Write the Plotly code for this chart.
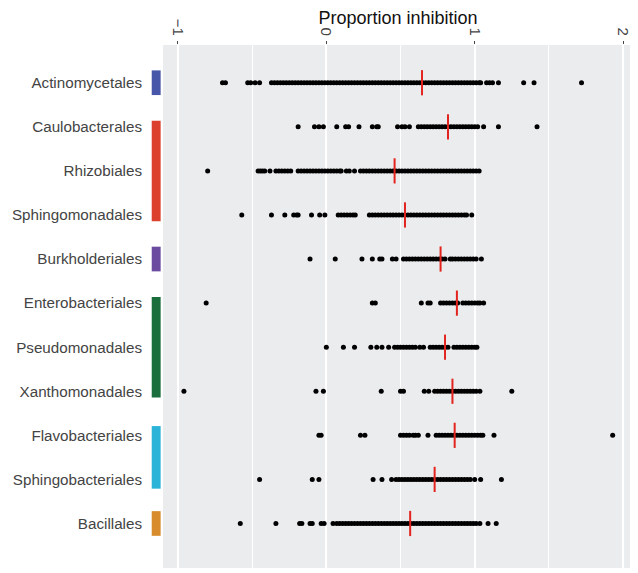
import plotly.graph_objects as go

# orders, top to bottom
orders = ["Actinomycetales", "Caulobacterales", "Rhizobiales", "Sphingomonadales",
          "Burkholderiales", "Enterobacteriales", "Pseudomonadales", "Xanthomonadales",
          "Flavobacteriales", "Sphingobacteriales", "Bacillales"]

# proportion inhibition values per order
act = [-0.70, -0.68, -0.53, -0.51, -0.48, -0.45,
       -0.37, -0.35, -0.33, -0.31, -0.29, -0.27, -0.25, -0.23, -0.21, -0.19, -0.17, -0.15,
       -0.13, -0.11, -0.09, -0.07, -0.05, -0.03, -0.01, 0.01, 0.03, 0.05, 0.07, 0.09, 0.11,
       0.13, 0.15, 0.17, 0.19, 0.21, 0.23, 0.25, 0.27, 0.29, 0.31, 0.33, 0.35, 0.37, 0.39,
       0.41, 0.43, 0.45, 0.47, 0.49, 0.51, 0.53, 0.55, 0.57, 0.59, 0.61, 0.63, 0.65, 0.67,
       0.69, 0.71, 0.73, 0.75, 0.77, 0.79, 0.81, 0.83, 0.85, 0.87, 0.89, 0.91, 0.93, 0.95,
       0.97, 0.99, 1.01, 1.03, 1.04, 1.08, 1.10, 1.12, 1.16, 1.33, 1.40, 1.72]
cau = [-0.19, -0.08, -0.05, -0.02, 0.07, 0.13, 0.15, 0.22, 0.31, 0.34, 0.35, 0.48, 0.51,
       0.53, 0.56, 0.62, 0.64, 0.66, 0.68, 0.70, 0.72, 0.74, 0.76, 0.78, 0.80, 0.82, 0.84,
       0.86, 0.88, 0.90, 0.92, 0.94, 0.96, 0.98, 1.00, 1.02, 1.06, 1.16, 1.42]
rhi = [-0.80, -0.46, -0.445, -0.43, -0.415, -0.38, -0.34, -0.32, -0.30, -0.28, -0.26, -0.24,
       -0.19, -0.17, -0.15, -0.13, -0.11, -0.09, -0.07, -0.05, -0.03, -0.01, 0.01, 0.03, 0.05,
       0.07, 0.09, 0.10, 0.135, 0.155, 0.19, 0.23, 0.25, 0.27, 0.29, 0.31, 0.33, 0.35, 0.37,
       0.39, 0.41, 0.43, 0.45, 0.47, 0.49, 0.51, 0.53, 0.55, 0.57, 0.59, 0.61, 0.63, 0.65,
       0.67, 0.69, 0.71, 0.73, 0.75, 0.77, 0.79, 0.81, 0.83, 0.85, 0.87, 0.89, 0.91, 0.93,
       0.95, 0.97, 0.99, 1.01, 1.03]
sph = [-0.57, -0.37, -0.28, -0.22, -0.20, -0.19, -0.10, -0.045, -0.01, 0.08, 0.10, 0.12,
       0.14, 0.16, 0.18, 0.195, 0.29, 0.31, 0.33, 0.35, 0.37, 0.39, 0.41, 0.43, 0.45, 0.47,
       0.49, 0.51, 0.53, 0.55, 0.57, 0.59, 0.61, 0.63, 0.65, 0.67, 0.69, 0.71, 0.73, 0.75,
       0.77, 0.79, 0.81, 0.83, 0.85, 0.87, 0.89, 0.91, 0.93, 0.945, 0.98]
bur = [-0.11, 0.06, 0.24, 0.31, 0.36, 0.375, 0.445, 0.47, 0.52, 0.54, 0.56, 0.58, 0.60,
       0.62, 0.64, 0.66, 0.68, 0.70, 0.72, 0.74, 0.76, 0.78, 0.80, 0.835, 0.85, 0.87, 0.89,
       0.91, 0.93, 0.95, 0.97, 0.99, 1.01, 1.045]
ent = [-0.81, 0.31, 0.33, 0.64, 0.685, 0.70, 0.77, 0.79, 0.81, 0.83, 0.85, 0.87, 0.885,
       0.92, 0.94, 0.96, 0.98, 1.00, 1.02, 1.035, 1.06]
pse = [0.00, 0.115, 0.19, 0.30, 0.34, 0.375, 0.42, 0.46, 0.48, 0.50, 0.52, 0.54, 0.56,
       0.58, 0.60, 0.63, 0.655, 0.70, 0.72, 0.74, 0.76, 0.78, 0.80, 0.82, 0.86, 0.88, 0.90,
       0.92, 0.94, 0.96, 0.98, 1.00, 1.015]
xan = [-0.96, -0.07, -0.02, 0.37, 0.50, 0.52, 0.66, 0.69, 0.73, 0.75, 0.77, 0.79, 0.81,
       0.83, 0.85, 0.87, 0.89, 0.91, 0.93, 0.95, 0.97, 0.99, 1.01, 1.035, 1.25]
fla = [-0.05, -0.035, 0.23, 0.26, 0.50, 0.52, 0.54, 0.56, 0.585, 0.60, 0.62, 0.685, 0.74,
       0.76, 0.78, 0.80, 0.82, 0.84, 0.86, 0.88, 0.90, 0.92, 0.94, 0.96, 0.98, 1.00, 1.02,
       1.04, 1.055, 1.13, 1.93]
spb = [-0.45, -0.095, -0.05, 0.315, 0.375, 0.44, 0.47, 0.49, 0.51, 0.53, 0.55, 0.57, 0.59,
       0.61, 0.63, 0.65, 0.67, 0.69, 0.71, 0.73, 0.75, 0.77, 0.79, 0.81, 0.83, 0.85, 0.87,
       0.89, 0.91, 0.93, 0.95, 0.97, 1.00, 1.04, 1.18]
bac = [-0.58, -0.34, -0.18, -0.165, -0.11, -0.095, -0.035, -0.015, 0.045, 0.07, 0.09, 0.11,
       0.13, 0.15, 0.17, 0.19, 0.21, 0.23, 0.25, 0.27, 0.29, 0.31, 0.33, 0.35, 0.37, 0.39,
       0.41, 0.43, 0.45, 0.47, 0.49, 0.51, 0.53, 0.55, 0.57, 0.59, 0.61, 0.63, 0.65, 0.67,
       0.69, 0.71, 0.73, 0.75, 0.77, 0.79, 0.81, 0.83, 0.85, 0.87, 0.89, 0.91, 0.93, 0.95,
       0.97, 0.99, 1.01, 1.035, 1.09, 1.145]
values = [act, cau, rhi, sph, bur, ent, pse, xan, fla, spb, bac]

medians = [0.645, 0.82, 0.46, 0.53, 0.77, 0.88, 0.80, 0.85, 0.865, 0.73, 0.565]

# phylum groups: (first order index, last order index, colour)
groups = [(0, 0, "#4756A8"), (1, 3, "#DC412D"), (4, 4, "#6A4BA0"),
          (5, 7, "#1A6E3C"), (8, 9, "#2BB4D8"), (10, 10, "#D88C2D")]

xs, ys = [], []
for i, vals in enumerate(values):
    xs += vals
    ys += [i] * len(vals)

fig = go.Figure()
fig.add_trace(go.Scatter(x=xs, y=ys, mode="markers",
                         marker=dict(color="black", size=5), showlegend=False))
fig.add_trace(go.Scatter(x=medians, y=list(range(len(orders))), mode="markers",
                         marker=dict(symbol="line-ns", size=18,
                                     line=dict(color="#E3231E", width=2)),
                         showlegend=False))

for first, last, col in groups:
    mid = (first + last) / 2
    half = 0.28 + 0.43 * (last - first)
    fig.add_shape(type="rect", xref="paper", yref="y", x0=-0.024, x1=-0.005,
                  y0=mid - half, y1=mid + half, fillcolor=col, line_width=0)

# page body has an 8px margin, so the figure is a bit smaller than the window
fig.update_layout(
    width=630, height=565,
    margin=dict(l=155, r=5, t=37, b=5, autoexpand=False),
    paper_bgcolor="white", plot_bgcolor="#EBECEE",
    font=dict(family="Liberation Sans, Arial, sans-serif", color="#444444"),
)
fig.update_xaxes(
    side="top", range=[-1.101, 2.067], automargin=False,
    tickvals=[-1, 0, 1, 2], tickangle=90, tickfont=dict(size=15, color="#444444"),
    ticks="outside", ticklen=3, tickcolor="#444444",
    showgrid=True, gridcolor="white", gridwidth=1.6, zeroline=False,
    minor=dict(dtick=0.5, showgrid=True, gridcolor="white", gridwidth=0.8),
    title=dict(text="Proportion inhibition", font=dict(size=18, color="#111111"), standoff=4),
)
fig.update_yaxes(
    range=[11.01, -0.856], tickvals=list(range(len(orders))), ticktext=orders,
    automargin=False,
    tickfont=dict(size=15.2, color="#444444"), ticklabelstandoff=20,
    showgrid=False, zeroline=False, ticks="",
)

fig.write_html("out.html")
